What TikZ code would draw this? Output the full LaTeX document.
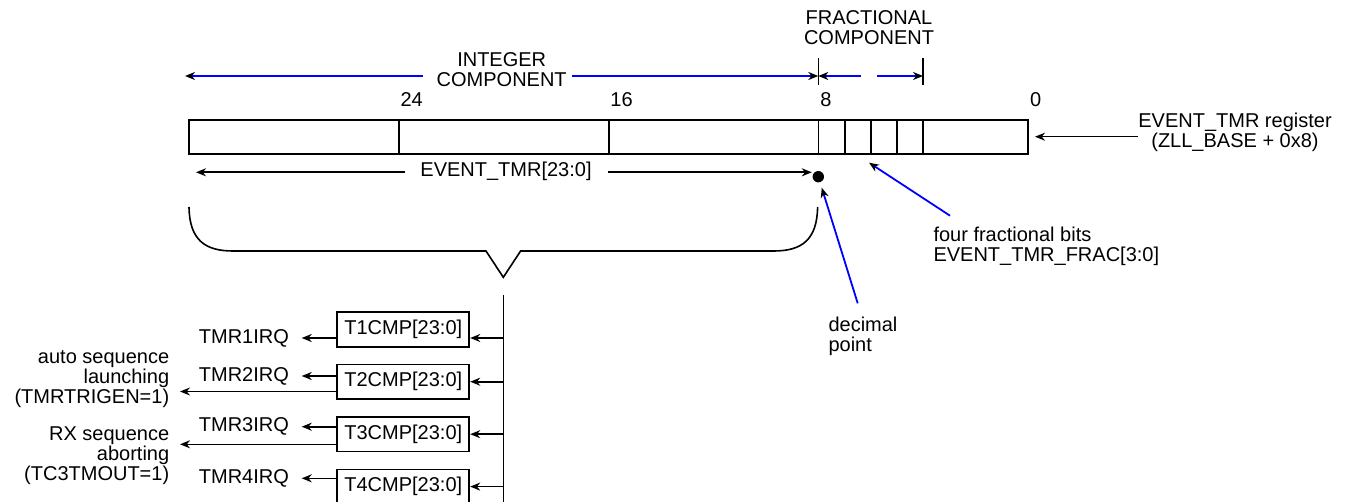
\documentclass[tikz,border=0pt]{standalone}
\usepackage{fontspec}
\setmainfont{Liberation Sans}
\usetikzlibrary{arrows.meta}

\begin{document}
\begin{tikzpicture}[x=0.5pt,y=-0.5pt,line width=0.8pt,
  >={Stealth[length=5pt,width=4pt,inset=1.6pt,black]},
  font=\fontsize{10}{10}\selectfont,
  lbl/.style={inner sep=0pt, align=center},
  cmpbox/.style={draw, line width=0.9pt, minimum width=66pt, minimum height=17.2pt, inner sep=0pt},
  irq/.style={anchor=east, inner xsep=6pt, inner ysep=0pt},
  blueline/.style={draw=blue, line width=0.9pt}]
\useasboundingbox (0,0) rectangle (1348,502);
\clip (0,0) rectangle (1348,502);

% register
\node[draw, line width=0.9pt, minimum width=419.65pt, minimum height=17.15pt, inner sep=0pt] (reg) at (608.65,137.15) {};
\foreach \b in {24,16,8,7,6,5,4}
  \draw[line width=0.9pt] ({1028.3-26.23*\b},120) -- ({1028.3-26.23*\b},154.3);
\foreach \b in {24,16,8,0}
  \node[anchor=base west, inner sep=0pt] (bit\b) at ({1029.3-26.23*\b},106.5) {\b};

% integer and fractional parts
\node[lbl] (intlbl) at (501.7,70) {INTEGER\\COMPONENT};
\node[lbl] (fraclbl) at (869,27.5) {FRACTIONAL\\COMPONENT};
\coordinate (intL) at (185,76);
\coordinate (intA) at (423,76);
\coordinate (intB) at (572,76);
\coordinate (pt8) at (818.3,76);
\coordinate (fracA) at (861,76);
\coordinate (fracB) at (877,76);
\coordinate (pt4) at (923,76);
\draw[blueline,->] (intA) -- (intL);
\draw[blueline,->] (intB) -- (pt8);
\draw[blueline,->] (fracA) -- (pt8);
\draw[blueline,->] (fracB) -- (pt4);
\draw (818.3,58.3) -- (818.3,85);
\draw (923,58.3) -- (923,85);

% EVENT_TMR[23:0]
\node[anchor=base, inner sep=0pt] (evlbl) at (506,177) {EVENT\_TMR[23:0]};
\node[circle, fill=black, inner sep=0pt, minimum size=5.7pt] (dp) at (818.3,176.7) {};
\coordinate (evL) at (196,172.3);
\coordinate (evA) at (405,172.3);
\coordinate (evB) at (607.7,172.3);
\draw[->] (evA) -- (evL);
\draw[->] (evB) -- (evB -| dp.west);

% register name
\node[lbl] (reglbl) at (1235,132.5) {EVENT\_TMR register\\(ZLL\_BASE + 0x8)};
\coordinate (regin) at (1035,136.7);
\draw[->] (reglbl.west |- regin) -- (regin);

% pointers
\node[lbl, align=left, anchor=north west] (fblbl) at (932.7,226.7) {four fractional bits\\EVENT\_TMR\_FRAC[3:0]};
\node[lbl, align=left, anchor=north west] (dplbl) at (827.7,316.7) {decimal\\point};
\coordinate (fbtail) at (950,215.7);
\coordinate (fbtip) at (869,162.7);
\coordinate (dptail) at (857.7,303.3);
\draw[blueline,->] (fbtail) -- (fbtip);
\draw[blueline,->,shorten >=2.5pt] (dptail) -- (dp);

% brace
\draw (189,207) .. controls (189.5,240) and (205,251) .. (233,251) -- (486,251) -- (503.3,277.3) -- (520.6,251) -- (773.6,251) .. controls (801.6,251) and (817.1,240) .. (817.6,207);

% comparators
\coordinate (vtop) at (503.3,295);
\coordinate (vbot) at (503.3,510);
\draw (vtop) -- (vbot);
\node[cmpbox] (t1) at (403.3,329.5) {T1CMP[23:0]};
\node[cmpbox] (t2) at (403.3,381.7) {T2CMP[23:0]};
\node[cmpbox] (t3) at (403.3,434.2) {T3CMP[23:0]};
\node[cmpbox] (t4) at (403.3,486.6) {T4CMP[23:0]};
\node[irq] (irq1) at (301.7,338) {TMR1IRQ};
\node[irq] (irq2) at (301.7,376) {TMR2IRQ};
\node[irq] (irq3) at (301.7,426.7) {TMR3IRQ};
\node[irq] (irq4) at (301.7,478.3) {TMR4IRQ};
\draw[->] (vtop |- irq1) -- (t1.east |- irq1);
\draw[->] (vtop |- t2) -- (t2);
\draw[->] (vtop |- t3) -- (t3);
\draw[->] (vtop |- t4) -- (t4);
\draw[->] (t1.west |- irq1) -- (irq1);
\draw[->] (t2.west |- irq2) -- (irq2);
\draw[->] (t3.west |- irq3) -- (irq3);
\draw[->] (t4.west |- irq4) -- (irq4);

% sequence triggers
\node[lbl, align=right, anchor=east, inner xsep=5pt] (trglbl) at (180,379.2) {auto sequence\\launching\\(TMRTRIGEN=1)};
\node[lbl, align=right, anchor=east, inner xsep=5pt] (abtlbl) at (180,455.8) {RX sequence\\aborting\\(TC3TMOUT=1)};
\path (t2.south west) ++(0,-8.3) coordinate (trg);
\path (t3.south west) ++(0,-8) coordinate (abt);
\draw[->] (trg) -- (trg -| trglbl.east);
\draw[->] (abt) -- (abt -| abtlbl.east);
\end{tikzpicture}
\end{document}
